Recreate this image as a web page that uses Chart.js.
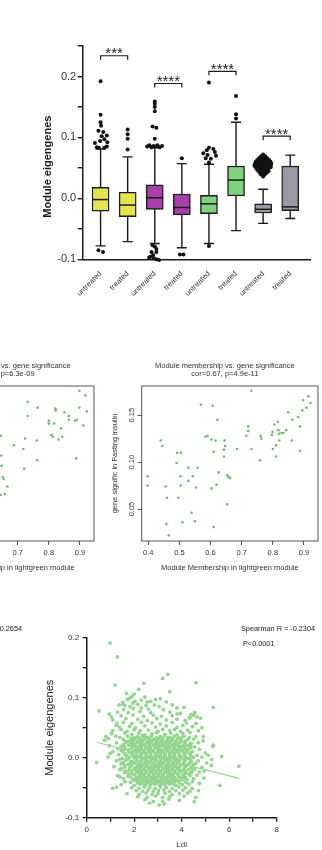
<!DOCTYPE html>
<html>
<head>
<meta charset="utf-8">
<script src="https://cdn.jsdelivr.net/npm/chart.js@4.4.0/dist/chart.umd.min.js"></script>
<style>
html, body { margin: 0; padding: 0; background: #fff; }
body { width: 322px; height: 850px; position: relative; overflow: hidden; font-family: "Liberation Sans", Arial, sans-serif; }
canvas { position: absolute; }
.note { position: absolute; font-size: 7.3px; line-height: 8px; color: #222; white-space: nowrap; }
</style>
</head>
<body>
<canvas id="box-chart" width="322" height="340" style="left:0;top:0"></canvas>
<canvas id="mm-left-chart" width="222" height="230" style="left:-124px;top:350px"></canvas>
<canvas id="mm-right-chart" width="222" height="230" style="left:100px;top:350px"></canvas>
<canvas id="ldl-chart" width="322" height="250" style="left:0;top:600px"></canvas>

<div class="note" style="right:300px;top:625px;text-align:right">Spearman R = -0.2654</div>
<div class="note" style="left:241px;top:625px">Spearman R = -0.2304</div>
<div class="note" style="left:243px;top:640px">P&lt;0.0001</div>

<script>
// ---- box plot: module eigengenes per group ----
const boxLabels = ['untreated', 'treated', 'untreated', 'treated', 'untreated', 'treated', 'untreated', 'treated'];
const boxFill = ['#e4e44c', '#e4e44c', '#a93fab', '#a93fab', '#80d27e', '#80d27e', '#9a9aa6', '#9a9aa6'];
const boxQ1 = [-0.021, -0.030, -0.018, -0.027, -0.025, 0.004, -0.024, -0.020];
const boxMedian = [-0.002, -0.011, 0.001, -0.015, -0.009, 0.030, -0.018, -0.014];
const boxQ3 = [0.018, 0.010, 0.022, 0.007, 0.005, 0.053, -0.009, 0.053];
const whiskerLow = [-0.078, -0.071, -0.074, -0.081, -0.074, -0.053, -0.041, -0.033];
const whiskerHigh = [0.081, 0.068, 0.083, 0.057, 0.056, 0.125, 0.015, 0.071];

// [group, sideways spread, value]
const outlierPoints = [
  [1, 0, 0.192], [1, 0, 0.137], [1, 0, 0.125], [1, 0.02, 0.119], [1, -0.08, 0.111], [1, 0.1, 0.109],
  [1, 0.23, 0.103], [1, 0.04, 0.102], [1, -0.21, 0.091], [1, -0.02, 0.094], [1, 0.14, 0.097], [1, 0.25, 0.092],
  [1, -0.14, 0.084], [1, -0.06, 0.083], [1, 0.14, 0.083], [1, 0.23, 0.085], [1, -0.08, -0.085], [1, 0.09, -0.088],
  [2, 0, 0.113], [2, 0, 0.105], [2, 0, 0.098], [2, 0, 0.080],
  [3, 0, 0.159], [3, 0, 0.155], [3, 0, 0.150], [3, 0, 0.143], [3, -0.08, 0.118], [3, 0.06, 0.116], [3, 0, 0.098],
  [3, -0.28, 0.085], [3, -0.2, 0.087], [3, -0.12, 0.084], [3, -0.05, 0.086], [3, 0.02, 0.085], [3, 0.1, 0.087],
  [3, 0.18, 0.084], [3, 0.27, 0.086],
  [3, -0.08, -0.077], [3, 0, -0.079], [3, 0.06, -0.083], [3, -0.12, -0.088], [3, 0.06, -0.088], [3, -0.06, -0.093],
  [3, -0.16, -0.096], [3, -0.04, -0.098], [3, 0.06, -0.1], [3, 0.16, -0.101], [3, -0.21, -0.097],
  [4, 0, 0.066], [4, -0.07, -0.092], [4, 0.06, -0.092],
  [5, 0, 0.19], [5, 0, 0.083], [5, 0.16, 0.081], [5, -0.08, 0.079], [5, 0.22, 0.076], [5, -0.21, 0.074],
  [5, -0.05, 0.071], [5, 0.26, 0.07], [5, -0.12, 0.066], [5, 0.07, 0.065], [5, 0, 0.059], [5, 0, -0.078],
  [6, 0, 0.168], [6, 0, 0.138], [6, 0, 0.131],
  [7, 0, 0.072], [7, -0.08, 0.069], [7, 0.08, 0.069], [7, -0.15, 0.066], [7, 0, 0.066], [7, 0.15, 0.066],
  [7, -0.22, 0.063], [7, -0.07, 0.063], [7, 0.07, 0.063], [7, 0.22, 0.063],
  [7, -0.27, 0.060], [7, -0.13, 0.060], [7, 0, 0.060], [7, 0.13, 0.060], [7, 0.27, 0.060],
  [7, -0.3, 0.057], [7, -0.18, 0.057], [7, -0.06, 0.057], [7, 0.06, 0.057], [7, 0.18, 0.057], [7, 0.3, 0.057],
  [7, -0.32, 0.054], [7, -0.2, 0.054], [7, -0.08, 0.054], [7, 0.04, 0.054], [7, 0.16, 0.054], [7, 0.28, 0.054],
  [7, -0.28, 0.051], [7, -0.14, 0.051], [7, 0, 0.051], [7, 0.14, 0.051], [7, 0.28, 0.051],
  [7, -0.24, 0.048], [7, -0.1, 0.048], [7, 0.04, 0.048], [7, 0.18, 0.048],
  [7, -0.18, 0.045], [7, -0.05, 0.045], [7, 0.08, 0.045], [7, 0.2, 0.045],
  [7, -0.12, 0.042], [7, 0.02, 0.042], [7, 0.14, 0.042], [7, -0.08, 0.039], [7, 0.06, 0.039], [7, 0, 0.036]
];

const sigPairs = [[1, 2], [3, 4], [5, 6], [7, 8]];
const sigHeights = [0.234, 0.1885, 0.2085, 0.102];
const sigStars = ['***', '****', '****', '****'];

// ---- module membership vs gene significance ----
const membershipRight = [
  0.731, 0.914, 0.897, 0.921, 0.569, 0.607, 0.908, 0.895, 0.849, 0.881,
  0.622, 0.863, 0.816, 0.721, 0.805, 0.887, 0.818, 0.799, 0.721, 0.843,
  0.834, 0.828, 0.820, 0.797, 0.440, 0.445, 0.584, 0.591, 0.603, 0.616,
  0.645, 0.647, 0.715, 0.761, 0.763, 0.821, 0.810, 0.800, 0.731, 0.685,
  0.610, 0.643, 0.643, 0.810, 0.887, 0.861, 0.493, 0.505, 0.491, 0.529,
  0.558, 0.759, 0.398, 0.398, 0.456, 0.460, 0.458, 0.466, 0.497, 0.504,
  0.504, 0.510, 0.529, 0.543, 0.553, 0.539, 0.550, 0.603, 0.619, 0.626,
  0.610, 0.654, 0.658, 0.663, 0.654
];
const significanceRight = [
  0.176, 0.170, 0.166, 0.163, 0.161, 0.160, 0.158, 0.155, 0.153, 0.148,
  0.145, 0.145, 0.143, 0.138, 0.140, 0.138, 0.134, 0.132, 0.133, 0.134,
  0.131, 0.131, 0.130, 0.129, 0.123, 0.117, 0.127, 0.128, 0.124, 0.123,
  0.123, 0.117, 0.128, 0.128, 0.125, 0.123, 0.118, 0.114, 0.114, 0.114,
  0.111, 0.113, 0.106, 0.106, 0.112, 0.123, 0.110, 0.110, 0.099, 0.094,
  0.094, 0.102, 0.085, 0.075, 0.074, 0.062, 0.034, 0.022, 0.062, 0.085,
  0.075, 0.036, 0.080, 0.085, 0.073, 0.046, 0.037, 0.072, 0.076, 0.089,
  0.031, 0.086, 0.084, 0.083, 0.055
];
const membershipLeft = [
  0.898, 0.917, 0.732, 0.764, 0.821, 0.822, 0.898, 0.922, 0.850, 0.732,
  0.864, 0.864, 0.884, 0.890, 0.800, 0.800, 0.817, 0.839, 0.911, 0.808,
  0.813, 0.831, 0.843, 0.646, 0.724, 0.688, 0.761, 0.718, 0.647, 0.763,
  0.888, 0.648, 0.721, 0.652, 0.655, 0.667, 0.645, 0.659
];
const significanceLeft = [
  0.176, 0.171, 0.164, 0.158, 0.157, 0.155, 0.158, 0.154, 0.153, 0.149,
  0.149, 0.145, 0.144, 0.145, 0.144, 0.141, 0.141, 0.136, 0.139, 0.129,
  0.127, 0.124, 0.127, 0.128, 0.125, 0.118, 0.123, 0.114, 0.107, 0.102,
  0.104, 0.096, 0.093, 0.084, 0.082, 0.074, 0.065, 0.066
];
const membershipTicks = [0.4, 0.5, 0.6, 0.7, 0.8, 0.9];
const significanceTicks = [0.05, 0.10, 0.15];

// ---- Ldl vs module eigengenes ----
const ldlPoints = [
  [1.8, 0.099], [2.45, 0.101], [3.1, 0.098], [1.68, 0.107], [2.0, 0.106], [2.19, 0.114], [1.9, 0.102],
  [1.52, 0.092], [2.03, 0.094], [2.3, 0.096], [2.7, 0.094], [1.71, 0.097], [1.94, 0.091], [3.35, 0.093],
  [1.37, 0.088], [1.61, 0.087], [2.15, 0.089], [2.5, 0.087], [2.85, 0.088], [1.82, 0.085], [3.05, 0.085],
  [1.96, 0.082], [2.6, 0.081], [3.23, 0.080], [3.8, 0.083], [1.55, 0.080], [2.3, 0.083],
  [0.52, 0.078], [0.95, 0.073], [1.3, 0.076], [1.75, 0.075], [2.25, 0.077], [2.7, 0.075], [3.5, 0.076],
  [3.95, 0.074], [4.55, 0.075], [3.81, 0.073],
  [1.04, 0.068], [1.45, 0.070], [1.95, 0.071], [2.4, 0.069], [2.8, 0.071], [3.15, 0.069], [3.6, 0.070],
  [4.32, 0.067], [4.5, 0.071], [4.65, 0.068], [4.8, 0.066],
  [1.1, 0.063], [1.65, 0.065], [2.15, 0.064], [2.55, 0.062], [2.95, 0.065], [3.35, 0.063], [3.8, 0.064],
  [4.15, 0.062], [4.35, 0.066],
  [1.28, 0.057], [1.55, 0.059], [1.9, 0.057], [2.3, 0.059], [2.75, 0.058], [3.1, 0.056], [3.6, 0.059],
  [4.2, 0.058], [4.6, 0.057],
  [1.23, 0.054], [1.37, 0.051], [1.8, 0.052], [2.05, 0.050], [2.45, 0.053], [2.9, 0.051], [3.35, 0.053],
  [3.8, 0.050], [4.05, 0.054], [4.45, 0.052], [4.85, 0.050],
  [1.1, 0.045], [1.45, 0.047], [1.7, 0.044], [2.0, 0.047], [2.25, 0.045], [2.6, 0.046], [3.0, 0.044],
  [3.2, 0.047], [3.5, 0.045], [3.7, 0.047], [3.95, 0.044], [4.25, 0.046], [4.7, 0.045],
  [1.05, 0.040], [1.6, 0.041], [1.9, 0.039], [2.2, 0.041], [2.45, 0.038], [2.75, 0.040], [2.95, 0.042],
  [3.3, 0.039], [3.55, 0.041], [3.8, 0.038], [4.05, 0.040], [4.35, 0.042], [4.91, 0.035],
  [0.81, 0.035], [0.91, 0.032], [1.22, 0.036], [1.4, 0.034], [1.72, 0.036], [1.95, 0.033], [2.15, 0.035],
  [2.35, 0.037], [2.55, 0.034], [2.72, 0.036], [2.92, 0.033], [3.1, 0.035], [3.28, 0.037], [3.48, 0.034],
  [3.68, 0.036], [3.88, 0.033], [4.1, 0.036], [4.32, 0.034], [4.6, 0.035],
  [0.75, 0.029], [1.55, 0.030], [1.82, 0.028], [2.02, 0.031], [2.22, 0.029], [2.42, 0.031], [2.62, 0.028],
  [2.82, 0.030], [3.02, 0.031], [3.2, 0.028], [3.4, 0.030], [3.6, 0.029], [3.8, 0.031], [4.0, 0.028],
  [4.25, 0.030], [4.5, 0.031], [4.9, 0.028],
  [1.25, 0.025], [1.65, 0.026], [1.92, 0.024], [2.12, 0.026], [2.32, 0.023], [2.52, 0.025], [2.72, 0.026],
  [2.92, 0.024], [3.12, 0.025], [3.32, 0.023], [3.52, 0.026], [3.72, 0.024], [3.92, 0.025], [4.15, 0.026],
  [4.4, 0.024], [4.7, 0.025],
  [0.95, 0.020], [1.45, 0.019], [1.75, 0.021], [2.0, 0.020], [2.2, 0.018], [2.4, 0.021], [2.6, 0.019],
  [2.8, 0.021], [3.0, 0.019], [3.2, 0.021], [3.4, 0.018], [3.6, 0.020], [3.8, 0.021], [4.0, 0.019],
  [4.25, 0.020], [4.55, 0.018], [5.31, 0.019],
  [1.3, 0.015], [1.6, 0.014], [1.88, 0.016], [2.08, 0.013], [2.28, 0.015], [2.48, 0.016], [2.68, 0.014],
  [2.88, 0.016], [3.08, 0.013], [3.28, 0.015], [3.48, 0.016], [3.68, 0.014], [3.88, 0.015], [4.1, 0.013],
  [4.35, 0.016], [4.75, 0.014], [5.33, 0.021],
  [1.1, 0.010], [1.5, 0.011], [1.78, 0.009], [1.98, 0.010], [2.18, 0.011], [2.38, 0.009], [2.58, 0.010],
  [2.78, 0.011], [2.98, 0.009], [3.18, 0.010], [3.38, 0.011], [3.58, 0.009], [3.78, 0.010], [3.98, 0.011],
  [4.2, 0.009], [4.45, 0.010], [5.0, 0.008], [0.98, 0.007],
  [1.35, 0.005], [1.65, 0.004], [1.9, 0.006], [2.1, 0.004], [2.3, 0.005], [2.5, 0.006], [2.7, 0.004],
  [2.9, 0.005], [3.1, 0.006], [3.3, 0.004], [3.5, 0.005], [3.7, 0.006], [3.9, 0.004], [4.12, 0.005],
  [4.35, 0.006], [4.65, 0.004], [5.12, 0.004],
  [0.9, 0.001], [1.5, -0.001], [1.8, 0.001], [2.0, 0.000], [2.2, 0.002], [2.4, -0.001], [2.6, 0.001],
  [2.8, -0.001], [3.0, 0.002], [3.2, 0.000], [3.4, -0.001], [3.6, 0.001], [3.8, -0.002], [4.0, 0.001],
  [4.25, -0.001], [4.5, 0.000], [4.85, 0.001], [5.68, 0.002],
  [1.25, -0.005], [1.65, -0.004], [1.92, -0.006], [2.12, -0.005], [2.32, -0.004], [2.52, -0.006],
  [2.72, -0.005], [2.92, -0.004], [3.12, -0.006], [3.32, -0.005], [3.52, -0.004], [3.72, -0.006],
  [3.92, -0.005], [4.15, -0.004], [4.4, -0.006], [4.7, -0.005], [5.26, -0.003], [0.42, -0.008],
  [1.45, -0.010], [1.75, -0.011], [2.02, -0.009], [2.22, -0.011], [2.42, -0.010], [2.62, -0.009],
  [2.82, -0.011], [3.02, -0.010], [3.22, -0.009], [3.42, -0.011], [3.62, -0.010], [3.82, -0.009],
  [4.05, -0.011], [4.3, -0.010], [4.6, -0.009], [5.05, -0.009], [5.25, -0.013],
  [1.15, -0.015], [1.6, -0.016], [1.88, -0.014], [2.1, -0.016], [2.3, -0.015], [2.5, -0.014],
  [2.7, -0.016], [2.9, -0.015], [3.1, -0.014], [3.3, -0.016], [3.5, -0.015], [3.7, -0.014],
  [3.9, -0.016], [4.15, -0.015], [4.45, -0.014], [4.85, -0.016], [6.41, -0.014],
  [1.4, -0.020], [1.75, -0.021], [2.0, -0.019], [2.2, -0.021], [2.4, -0.020], [2.6, -0.019],
  [2.8, -0.021], [3.0, -0.020], [3.2, -0.019], [3.4, -0.021], [3.6, -0.020], [3.8, -0.019],
  [4.02, -0.021], [4.28, -0.020], [4.55, -0.019], [4.95, -0.022],
  [1.6, -0.025], [1.9, -0.026], [2.12, -0.024], [2.32, -0.026], [2.52, -0.025], [2.72, -0.024],
  [2.92, -0.026], [3.12, -0.025], [3.32, -0.024], [3.52, -0.026], [3.72, -0.025], [3.92, -0.024],
  [4.15, -0.026], [4.4, -0.025], [4.75, -0.024],
  [1.3, -0.030], [1.75, -0.031], [2.02, -0.029], [2.22, -0.031], [2.42, -0.030], [2.62, -0.029],
  [2.82, -0.031], [3.02, -0.030], [3.22, -0.029], [3.42, -0.031], [3.62, -0.030], [3.85, -0.029],
  [4.1, -0.031], [4.35, -0.030], [4.65, -0.029], [1.4, -0.032],
  [1.55, -0.035], [1.95, -0.036], [2.15, -0.034], [2.35, -0.036], [2.55, -0.035], [2.75, -0.034],
  [2.95, -0.036], [3.15, -0.035], [3.35, -0.034], [3.55, -0.036], [3.75, -0.035], [3.98, -0.034],
  [4.22, -0.036], [4.5, -0.035], [4.94, -0.034],
  [1.61, -0.040], [1.85, -0.041], [2.1, -0.039], [2.3, -0.041], [2.5, -0.040], [2.7, -0.039],
  [2.9, -0.041], [3.1, -0.040], [3.3, -0.039], [3.5, -0.041], [3.7, -0.040], [3.92, -0.039],
  [4.18, -0.041], [4.45, -0.040], [4.74, -0.043],
  [1.45, -0.045], [2.0, -0.046], [2.25, -0.044], [2.48, -0.046], [2.68, -0.045], [2.88, -0.044],
  [3.08, -0.046], [3.28, -0.045], [3.5, -0.044], [3.75, -0.046], [4.02, -0.045], [4.3, -0.044], [5.61, -0.046],
  [1.09, -0.051], [1.26, -0.049], [1.9, -0.050], [2.2, -0.051], [2.42, -0.049], [2.65, -0.050],
  [2.88, -0.051], [3.1, -0.049], [3.35, -0.050], [3.6, -0.051], [3.88, -0.049], [4.15, -0.050], [4.45, -0.051],
  [2.08, -0.055], [2.35, -0.056], [2.58, -0.054], [2.8, -0.056], [3.02, -0.055], [3.25, -0.054],
  [3.48, -0.056], [3.75, -0.055], [4.05, -0.054], [4.35, -0.056], [4.7, -0.055],
  [1.7, -0.060], [2.21, -0.061], [2.5, -0.059], [2.75, -0.061], [3.0, -0.060], [3.3, -0.059],
  [3.6, -0.061], [3.9, -0.060], [4.25, -0.059],
  [2.15, -0.065], [2.55, -0.066], [2.9, -0.064], [3.2, -0.066], [3.5, -0.065], [4.1, -0.064], [4.6, -0.066],
  [2.45, -0.070], [2.8, -0.073], [3.2, -0.073], [3.45, -0.069], [3.9, -0.071], [4.53, -0.073],
  [2.65, -0.076], [3.26, -0.077], [3.05, -0.079],
  [0.98, 0.191], [1.29, 0.168], [1.19, 0.121], [2.41, 0.124], [3.2, 0.132], [3.41, 0.139], [4.6, 0.125],
  [5.33, 0.084], [1.52, 0.089], [2.55, 0.093], [4.4, 0.072], [3.5, 0.11], [2.9, 0.097], [3.6, 0.088], [4.1, 0.084]
];
// densest part of the cloud, sitting between the rows above
const ldlCorePoints = [
  [1.85, 0.032], [2.05, 0.033], [2.25, 0.032], [2.45, 0.033], [2.65, 0.032], [2.85, 0.031], [3.05, 0.033],
  [3.2, 0.032], [3.4, 0.033], [3.6, 0.032], [3.8, 0.031], [4.0, 0.033],
  [1.7, 0.027], [1.95, 0.028], [2.15, 0.027], [2.35, 0.028], [2.55, 0.027], [2.75, 0.028], [2.95, 0.027],
  [3.15, 0.028], [3.35, 0.027], [3.55, 0.028], [3.75, 0.027], [3.95, 0.028], [4.15, 0.027],
  [1.55, 0.022], [1.85, 0.023], [2.05, 0.022], [2.25, 0.023], [2.45, 0.022], [2.65, 0.023], [2.85, 0.022],
  [3.05, 0.023], [3.25, 0.022], [3.45, 0.023], [3.65, 0.022], [3.85, 0.023], [4.1, 0.022], [4.35, 0.023],
  [1.6, 0.017], [1.9, 0.018], [2.1, 0.017], [2.3, 0.018], [2.5, 0.017], [2.7, 0.018], [2.9, 0.017],
  [3.1, 0.018], [3.3, 0.017], [3.5, 0.018], [3.7, 0.017], [3.9, 0.018], [4.12, 0.017], [4.4, 0.018],
  [1.45, 0.012], [1.75, 0.013], [2.0, 0.012], [2.2, 0.013], [2.4, 0.012], [2.6, 0.013], [2.8, 0.012],
  [3.0, 0.013], [3.2, 0.012], [3.4, 0.013], [3.6, 0.012], [3.8, 0.013], [4.0, 0.012], [4.25, 0.013],
  [1.6, 0.007], [1.88, 0.008], [2.08, 0.007], [2.28, 0.008], [2.48, 0.007], [2.68, 0.008], [2.88, 0.007],
  [3.08, 0.008], [3.28, 0.007], [3.48, 0.008], [3.68, 0.007], [3.88, 0.008], [4.1, 0.007], [4.35, 0.008],
  [1.7, 0.002], [1.95, 0.003], [2.1, 0.002], [2.3, 0.003], [2.5, 0.002], [2.7, 0.003], [2.9, 0.002],
  [3.1, 0.003], [3.3, 0.002], [3.5, 0.003], [3.7, 0.002], [3.9, 0.003], [4.15, 0.002], [4.4, 0.003],
  [1.4, -0.003], [1.75, -0.002], [2.1, -0.003], [2.3, -0.002], [2.5, -0.003], [2.7, -0.002], [2.9, -0.003],
  [3.1, -0.002], [3.3, -0.003], [3.5, -0.002], [3.7, -0.003], [3.9, -0.002], [4.1, -0.003], [4.35, -0.002],
  [1.55, -0.008], [1.85, -0.007], [2.05, -0.008], [2.25, -0.007], [2.45, -0.008], [2.65, -0.007], [2.85, -0.008],
  [3.05, -0.007], [3.25, -0.008], [3.45, -0.007], [3.65, -0.008], [3.85, -0.007], [4.1, -0.008], [4.4, -0.007],
  [1.6, -0.013], [1.9, -0.012], [2.15, -0.013], [2.35, -0.012], [2.55, -0.013], [2.75, -0.012], [2.95, -0.013],
  [3.15, -0.012], [3.35, -0.013], [3.55, -0.012], [3.75, -0.013], [3.95, -0.012], [4.2, -0.013], [4.5, -0.012],
  [1.45, -0.018], [1.8, -0.017], [2.02, -0.018], [2.22, -0.017], [2.42, -0.018], [2.62, -0.017], [2.82, -0.018],
  [3.02, -0.017], [3.22, -0.018], [3.42, -0.017], [3.62, -0.018], [3.85, -0.017], [4.1, -0.018], [4.4, -0.017],
  [1.6, -0.023], [1.9, -0.022], [2.1, -0.023], [2.3, -0.022], [2.5, -0.023], [2.7, -0.022], [2.9, -0.023],
  [3.1, -0.022], [3.3, -0.023], [3.5, -0.022], [3.7, -0.023], [3.9, -0.022], [4.15, -0.023], [4.45, -0.022],
  [1.75, -0.027], [2.02, -0.028], [2.22, -0.027], [2.42, -0.028], [2.62, -0.027], [2.82, -0.028], [3.02, -0.027],
  [3.22, -0.028], [3.42, -0.027], [3.62, -0.028], [3.82, -0.027], [4.05, -0.028], [4.3, -0.027],
  [1.85, -0.032], [2.1, -0.033], [2.3, -0.032], [2.5, -0.033], [2.7, -0.032], [2.9, -0.033], [3.1, -0.032],
  [3.3, -0.033], [3.5, -0.032], [3.7, -0.033], [3.9, -0.032], [4.15, -0.033],
  [2.0, -0.037], [2.2, -0.038], [2.4, -0.037], [2.6, -0.038], [2.8, -0.037], [3.0, -0.038], [3.2, -0.037],
  [3.4, -0.038], [3.6, -0.037], [3.82, -0.038], [4.05, -0.037],
  [2.15, -0.042], [2.38, -0.043], [2.58, -0.042], [2.78, -0.043], [2.98, -0.042], [3.18, -0.043], [3.4, -0.042],
  [3.62, -0.043], [3.9, -0.042]
];
const fitLdl = [0.42, 6.43];
const fitEigengene = [0.0257, -0.0344];

Chart.defaults.font.family = '"Liberation Sans", Arial, sans-serif';
Chart.defaults.color = '#333';
Chart.defaults.animation = false;

const ink = '#1a1a1a';

function tenthsLabel(v) {
  if (Math.abs(v) < 1e-9) return '0.0';
  return Math.abs(v * 10 - Math.round(v * 10)) < 1e-6 ? v.toFixed(1) : '';
}

function drawRotatedText(ctx, text, x, y, font, color) {
  ctx.save();
  ctx.translate(x, y);
  ctx.rotate(-Math.PI / 2);
  ctx.font = font;
  ctx.fillStyle = color;
  ctx.textAlign = 'center';
  ctx.textBaseline = 'middle';
  ctx.fillText(text, 0, 0);
  ctx.restore();
}

/**
 * Whiskers, medians and significance brackets
 */
const boxParts = {
  id: 'boxParts',
  beforeDatasetsDraw(chart) {
    const { ctx, scales: { x, y } } = chart;
    ctx.save();
    ctx.strokeStyle = ink;
    ctx.lineWidth = 1.4;
    boxLabels.forEach((_, i) => {
      const cx = x.getPixelForValue(i + 1);
      const hi = y.getPixelForValue(whiskerHigh[i]);
      const lo = y.getPixelForValue(whiskerLow[i]);
      ctx.beginPath();
      ctx.moveTo(cx, hi); ctx.lineTo(cx, lo);
      ctx.moveTo(cx - 5, hi); ctx.lineTo(cx + 5, hi);
      ctx.moveTo(cx - 5, lo); ctx.lineTo(cx + 5, lo);
      ctx.stroke();
    });
    ctx.restore();
  },
  afterDatasetsDraw(chart) {
    const { ctx, chartArea, scales: { x, y } } = chart;
    ctx.save();
    ctx.strokeStyle = ink;
    ctx.lineWidth = 1.5;
    boxLabels.forEach((_, i) => {
      const cx = x.getPixelForValue(i + 1);
      const m = y.getPixelForValue(boxMedian[i]);
      ctx.beginPath();
      ctx.moveTo(cx - 8.5, m); ctx.lineTo(cx + 8.5, m);
      ctx.stroke();
    });

    ctx.lineWidth = 1.2;
    ctx.fillStyle = '#222';
    ctx.font = '15px "Liberation Sans", Arial, sans-serif';
    ctx.textAlign = 'center';
    ctx.textBaseline = 'alphabetic';
    sigPairs.forEach(([a, b], i) => {
      const xa = x.getPixelForValue(a);
      const xb = x.getPixelForValue(b);
      const h = y.getPixelForValue(sigHeights[i]);
      ctx.beginPath();
      ctx.moveTo(xa, h + 4); ctx.lineTo(xa, h); ctx.lineTo(xb, h); ctx.lineTo(xb, h + 4);
      ctx.stroke();
      ctx.fillText(sigStars[i], (xa + xb) / 2, h + 2.5);
    });

    drawRotatedText(ctx, 'Module eigengenes', chartArea.left - 35, y.getPixelForValue(0.052),
      'bold 11px "Liberation Sans", Arial, sans-serif', ink);
    ctx.restore();
  }
};

new Chart(document.getElementById('box-chart'), {
  type: 'bar',
  data: {
    datasets: [
      {
        type: 'scatter',
        data: outlierPoints.map(([g, shift, v]) => ({ x: g + shift, y: v })),
        pointRadius: 2,
        pointBackgroundColor: '#111',
        pointBorderWidth: 0,
        clip: false
      },
      {
        type: 'bar',
        data: boxQ3.map((q3, i) => ({ x: i + 1, y: [boxQ1[i], q3] })),
        backgroundColor: boxFill,
        borderColor: ink,
        borderWidth: 1.4,
        borderSkipped: false,
        barThickness: 17
      }
    ]
  },
  options: {
    responsive: false,
    layout: { padding: { top: 46, right: 12, left: 0, bottom: 0 } },
    plugins: { legend: { display: false }, tooltip: { enabled: false } },
    scales: {
      x: {
        type: 'linear',
        min: 0.34,
        max: 8.73,
        offset: false,
        afterFit: s => { s.height = 80.7; },
        grid: { display: false },
        border: { color: ink, width: 1.5 },
        ticks: {
          stepSize: 1, includeBounds: false, autoSkip: false,
          minRotation: 45, maxRotation: 45, padding: 2,
          font: { size: 7.5 }, color: '#333',
          callback: v => boxLabels[v - 1] || ''
        }
      },
      y: {
        min: -0.1,
        max: 0.25,
        afterFit: s => { s.width = 82.7; },
        grid: { drawOnChartArea: false, drawTicks: true, tickLength: 5, color: ink, lineWidth: 1.4 },
        border: { color: ink, width: 1.5 },
        ticks: { stepSize: 0.05, padding: 1.5, font: { size: 11 }, color: '#333', callback: tenthsLabel }
      }
    }
  },
  plugins: [boxParts]
});

/**
 * R style scatter: framed plot, rotated y labels, two-line title
 */
function createMembershipChart(canvasId, membership, significance, titleLines) {
  const frame = {
    id: 'frame',
    afterDraw(chart) {
      const { ctx, chartArea: a, scales: { y } } = chart;
      ctx.save();
      ctx.strokeStyle = '#555';
      ctx.lineWidth = 1;
      ctx.strokeRect(a.left, a.top, a.right - a.left, a.bottom - a.top);
      significanceTicks.forEach(v => {
        drawRotatedText(ctx, v.toFixed(2), a.left - 10, y.getPixelForValue(v),
          '7.5px "Liberation Sans", Arial, sans-serif', '#333');
      });
      ctx.font = '7.5px "Liberation Sans", Arial, sans-serif';
      ctx.fillStyle = '#333';
      ctx.textAlign = 'center';
      ctx.textBaseline = 'middle';
      const cx = (a.left + a.right) / 2 - 5;
      ctx.fillText(titleLines[0], cx, a.top - 20.3);
      ctx.fillText(titleLines[1], cx, a.top - 11.7);
      ctx.restore();
    }
  };

  return new Chart(document.getElementById(canvasId), {
    type: 'scatter',
    data: {
      datasets: [{
        data: membership.map((m, i) => ({ x: m, y: significance[i] })),
        pointRadius: 1.3,
        pointBackgroundColor: '#6abf68',
        pointBorderWidth: 0
      }]
    },
    options: {
      responsive: false,
      layout: { padding: { top: 36, right: 1, left: 0, bottom: 0 } },
      plugins: { legend: { display: false }, tooltip: { enabled: false } },
      scales: {
        x: {
          min: 0.379,
          max: 0.945,
          afterFit: s => { s.height = 39; },
          afterBuildTicks: s => { s.ticks = membershipTicks.map(v => ({ value: v })); },
          grid: { drawOnChartArea: false, drawTicks: true, tickLength: 4, color: '#555' },
          border: { display: false },
          ticks: { padding: 3, font: { size: 7.5 }, color: '#333', callback: v => v.toFixed(1) },
          title: {
            display: true, text: 'Module Membership in lightgreen module',
            font: { size: 7.5 }, color: '#333', padding: { top: 0, bottom: 7.8 }
          }
        },
        y: {
          min: 0.016,
          max: 0.181,
          afterFit: s => { s.width = 41.7; },
          afterBuildTicks: s => { s.ticks = significanceTicks.map(v => ({ value: v })); },
          grid: { drawOnChartArea: false, drawTicks: true, tickLength: 4, color: '#555' },
          border: { display: false },
          ticks: { display: false },
          title: {
            display: true, text: 'gene signific in Fasting insulin',
            font: { size: 7.5 }, color: '#333', padding: { top: 10.5, bottom: 0 }
          }
        }
      }
    },
    plugins: [frame]
  });
}

createMembershipChart('mm-left-chart', membershipLeft, significanceLeft,
  ['Module membership vs. gene significance', 'cor=0.71, p=6.3e-09']);
createMembershipChart('mm-right-chart', membershipRight, significanceRight,
  ['Module membership vs. gene significance', 'cor=0.67, p=4.9e-11']);

/**
 * Ldl scatter with linear fit
 */
new Chart(document.getElementById('ldl-chart'), {
  type: 'scatter',
  data: {
    datasets: [
      {
        type: 'line',
        data: fitLdl.map((x, i) => ({ x, y: fitEigengene[i] })),
        borderColor: '#9ad795',
        borderWidth: 1.2,
        pointRadius: 0,
        fill: false
      },
      {
        data: ldlPoints.concat(ldlCorePoints).map(([x, y]) => ({ x, y })),
        pointRadius: 1.9,
        pointBackgroundColor: '#93d68e',
        pointBorderWidth: 0
      }
    ]
  },
  options: {
    responsive: false,
    layout: { padding: { top: 37.7, right: 45.3, left: 0, bottom: 0 } },
    plugins: { legend: { display: false }, tooltip: { enabled: false } },
    scales: {
      x: {
        type: 'linear',
        min: 0,
        max: 8,
        afterFit: s => { s.height = 32.3; },
        grid: { drawOnChartArea: false, drawTicks: true, tickLength: 4, color: ink, lineWidth: 1.3 },
        border: { color: ink, width: 1.5 },
        ticks: { stepSize: 1, padding: 3, font: { size: 8 }, color: '#333', callback: v => (v % 2 === 0 ? String(v) : '') },
        title: { display: true, text: 'Ldl', font: { size: 8 }, color: '#333', padding: { top: 0, bottom: 0.9 } }
      },
      y: {
        min: -0.1,
        max: 0.2,
        afterFit: s => { s.width = 86.7; },
        grid: { drawOnChartArea: false, drawTicks: true, tickLength: 4, color: ink, lineWidth: 1.3 },
        border: { color: ink, width: 1.5 },
        ticks: { stepSize: 0.05, padding: 3.5, font: { size: 8 }, color: '#333', callback: tenthsLabel },
        title: { display: true, text: 'Module eigengenes', font: { size: 11 }, color: ink, padding: { top: 43.4, bottom: 0 } }
      }
    }
  }
});
</script>
</body>
</html>
